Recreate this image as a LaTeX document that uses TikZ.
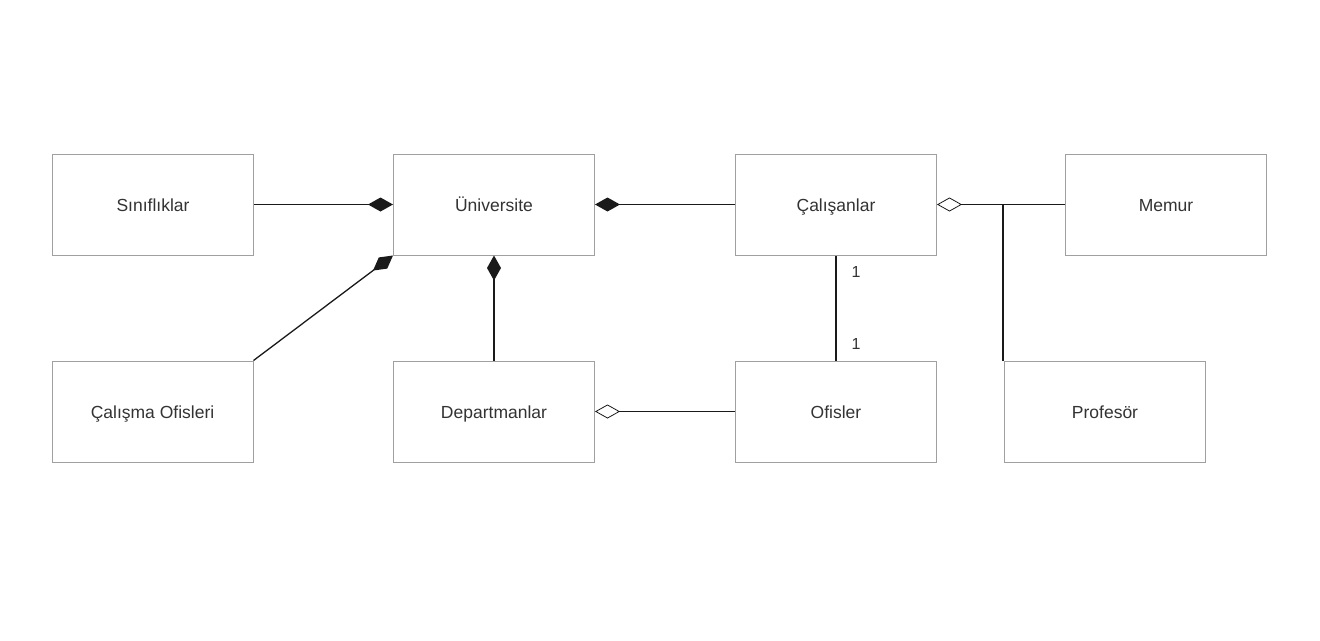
\documentclass[tikz,border=0pt]{standalone}
\usepackage{fontspec}
\setmainfont{Liberation Sans}
\usepackage{tikz}
\usetikzlibrary{arrows.meta, positioning}
\definecolor{boxline}{HTML}{A0A0A0}
\definecolor{linkline}{HTML}{1A1A1A}
\definecolor{labeltext}{HTML}{333333}

\begin{document}
\begin{tikzpicture}[
    x=1pt, y=-1pt,
    font=\fontsize{17.5}{20}\selectfont,
    classbox/.style={draw=boxline, line width=1pt, fill=white, minimum width=201pt,
        minimum height=101pt, text=labeltext, inner sep=0pt,
        text height=14.6pt, text depth=1.6pt},
    link/.style={draw=linkline, line width=1.3pt},
    compose/.style={link, -{Diamond[length=25pt, width=14pt]}},
    aggregate/.style={link, -{Diamond[open, length=25pt, width=14pt, line width=0.8pt]}},
    mult/.style={font=\fontsize{16}{18}\selectfont, text=labeltext, inner sep=0pt}
]
\useasboundingbox (0,0) rectangle (1320,640);

% --- Classes, top row ---
\node[classbox] (sinif)   at (153, 204.5)  {Sınıflıklar};
\node[classbox] (univ)    at (494, 204.5)  {Üniversite};
\node[classbox] (calisan) at (836, 204.5)  {Çalışanlar};
\node[classbox] (memur)   at (1166, 204.5) {Memur};

% --- Classes, bottom row ---
\node[classbox] (calofis) at (152.5, 411.5) {Çalışma Ofisleri};
\node[classbox] (dept)    at (494, 411.5)   {Departmanlar};
\node[classbox] (ofis)    at (836, 411.5)   {Ofisler};
\node[classbox] (prof)    at (1105, 411.5)  {Profesör};

% --- Compositions into Üniversite ---
\draw[compose] (sinif.east) -- (univ.west);
\draw[compose] (calofis.north east) -- (univ.south west);
\draw[compose] (dept.north) -- (univ.south);
\draw[compose] (calisan.west) -- (univ.east);

% --- Aggregations ---
\draw[aggregate] (ofis.west) -- (dept.east);
\draw[aggregate] (memur.west) -- (calisan.east);
\coordinate (profjoin) at (prof.north west |- calisan.east);
\draw[link] ([xshift=-1pt]prof.north west) -- ([xshift=-1pt]profjoin);

% --- Çalışanlar 1 -- 1 Ofisler ---
\draw[link] (calisan.south) -- (ofis.north)
    node[mult, pos=0.16, right=15pt] {1}
    node[mult, pos=0.84, right=15pt] {1};

\end{tikzpicture}
\end{document}
